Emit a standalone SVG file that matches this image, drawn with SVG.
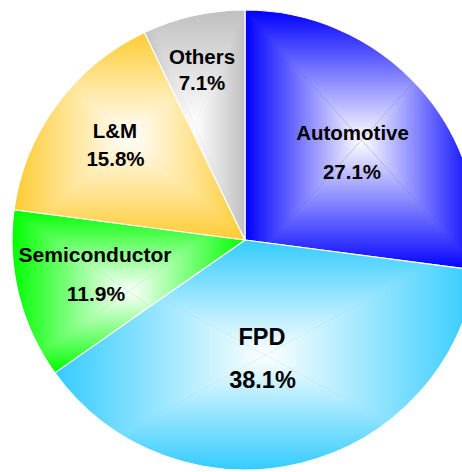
<svg xmlns="http://www.w3.org/2000/svg" width="462" height="472" viewBox="0 0 462 472">
  <style>
    .lbl { font-family: "Liberation Sans", Arial, sans-serif; font-weight: bold; font-size: 20.5px; fill: #000; text-anchor: middle; }
    .sep { fill: none; stroke: #fff; stroke-width: 1.2; stroke-linejoin: round; }
  </style>
  <defs>
    <!-- white "from centre" shading: four triangles per slice, each fading from clear at the box edge to white at the box centre -->
    <linearGradient id="fadeTop" x1="0" y1="0" x2="0" y2="1">
      <stop offset="0" stop-color="#fff" stop-opacity="0"/>
      <stop offset="1" stop-color="#fff" stop-opacity="1"/>
    </linearGradient>
    <linearGradient id="fadeBottom" x1="0" y1="1" x2="0" y2="0">
      <stop offset="0" stop-color="#fff" stop-opacity="0"/>
      <stop offset="1" stop-color="#fff" stop-opacity="1"/>
    </linearGradient>
    <linearGradient id="fadeLeft" x1="0" y1="0" x2="1" y2="0">
      <stop offset="0" stop-color="#fff" stop-opacity="0"/>
      <stop offset="1" stop-color="#fff" stop-opacity="1"/>
    </linearGradient>
    <linearGradient id="fadeRight" x1="1" y1="0" x2="0" y2="0">
      <stop offset="0" stop-color="#fff" stop-opacity="0"/>
      <stop offset="1" stop-color="#fff" stop-opacity="1"/>
    </linearGradient>

    <path id="pAuto" d="M245,240 L245,10 A233,230 0 0 1 475.97,270.27 Z"/>
    <path id="pFpd" d="M245,240 L475.97,270.27 A233,230 0 0 1 54.82,372.88 Z"/>
    <path id="pSemi" d="M245,240 L54.82,372.88 A233,230 0 0 1 14.03,209.73 Z"/>
    <path id="pLm" d="M245,240 L14.03,209.73 A233,230 0 0 1 144.47,32.51 Z"/>
    <path id="pOth" d="M245,240 L144.47,32.51 A233,230 0 0 1 245,10 Z"/>

    <clipPath id="cAuto"><use href="#pAuto"/></clipPath>
    <clipPath id="cFpd"><use href="#pFpd"/></clipPath>
    <clipPath id="cSemi"><use href="#pSemi"/></clipPath>
    <clipPath id="cLm"><use href="#pLm"/></clipPath>
    <clipPath id="cOth"><use href="#pOth"/></clipPath>
  </defs>

  <rect width="462" height="472" fill="#fff"/>

  <!-- Automotive 27.1% -->
  <g id="slice-automotive">
    <use href="#pAuto" fill="#0000ff"/>
    <g clip-path="url(#cAuto)">
      <polygon points="245,10 478,10 361.5,140.1" fill="url(#fadeTop)"/>
      <polygon points="245,270.3 478,270.3 361.5,140.1" fill="url(#fadeBottom)"/>
      <polygon points="245,10 245,270.3 361.5,140.1" fill="url(#fadeLeft)"/>
      <polygon points="478,10 478,270.3 361.5,140.1" fill="url(#fadeRight)"/>
    </g>
    <use href="#pAuto" class="sep"/>
    <text class="lbl" x="352.5" y="139.5">Automotive</text>
    <text class="lbl" x="352" y="178.5">27.1%</text>
  </g>

  <!-- FPD 38.1% -->
  <g id="slice-fpd">
    <use href="#pFpd" fill="#33ccff"/>
    <g clip-path="url(#cFpd)">
      <polygon points="54.8,240 476,240 265.4,355" fill="url(#fadeTop)"/>
      <polygon points="54.8,470 476,470 265.4,355" fill="url(#fadeBottom)"/>
      <polygon points="54.8,240 54.8,470 265.4,355" fill="url(#fadeLeft)"/>
      <polygon points="476,240 476,470 265.4,355" fill="url(#fadeRight)"/>
    </g>
    <use href="#pFpd" class="sep"/>
    <text class="lbl" x="262" y="345" style="font-size:23.5px">FPD</text>
    <text class="lbl" x="262.5" y="387.5" style="font-size:23.5px">38.1%</text>
  </g>

  <!-- Semiconductor 11.9% -->
  <g id="slice-semiconductor">
    <use href="#pSemi" fill="#00ff00"/>
    <g clip-path="url(#cSemi)">
      <polygon points="12,209.7 245,209.7 128.5,291.3" fill="url(#fadeTop)"/>
      <polygon points="12,372.9 245,372.9 128.5,291.3" fill="url(#fadeBottom)"/>
      <polygon points="12,209.7 12,372.9 128.5,291.3" fill="url(#fadeLeft)"/>
      <polygon points="245,209.7 245,372.9 128.5,291.3" fill="url(#fadeRight)"/>
    </g>
    <use href="#pSemi" class="sep"/>
    <text class="lbl" x="95" y="262" style="font-size:21px">Semiconductor</text>
    <text class="lbl" x="96" y="300.5" style="font-size:21px">11.9%</text>
  </g>

  <!-- L&M 15.8% -->
  <g id="slice-lm">
    <use href="#pLm" fill="#ffcc33"/>
    <g clip-path="url(#cLm)">
      <polygon points="14,32.5 245,32.5 129.5,136.3" fill="url(#fadeTop)"/>
      <polygon points="14,240 245,240 129.5,136.3" fill="url(#fadeBottom)"/>
      <polygon points="14,32.5 14,240 129.5,136.3" fill="url(#fadeLeft)"/>
      <polygon points="245,32.5 245,240 129.5,136.3" fill="url(#fadeRight)"/>
    </g>
    <use href="#pLm" class="sep"/>
    <text class="lbl" x="115" y="138">L&amp;M</text>
    <text class="lbl" x="115.5" y="166">15.8%</text>
  </g>

  <!-- Others 7.1% -->
  <g id="slice-others">
    <use href="#pOth" fill="#c0c0c0"/>
    <g clip-path="url(#cOth)">
      <polygon points="144.5,10 245,10 194.7,125" fill="url(#fadeTop)"/>
      <polygon points="144.5,240 245,240 194.7,125" fill="url(#fadeBottom)"/>
      <polygon points="144.5,10 144.5,240 194.7,125" fill="url(#fadeLeft)"/>
      <polygon points="245,10 245,240 194.7,125" fill="url(#fadeRight)"/>
    </g>
    <use href="#pOth" class="sep"/>
    <text class="lbl" x="202" y="64">Others</text>
    <text class="lbl" x="202" y="90">7.1%</text>
  </g>
</svg>
